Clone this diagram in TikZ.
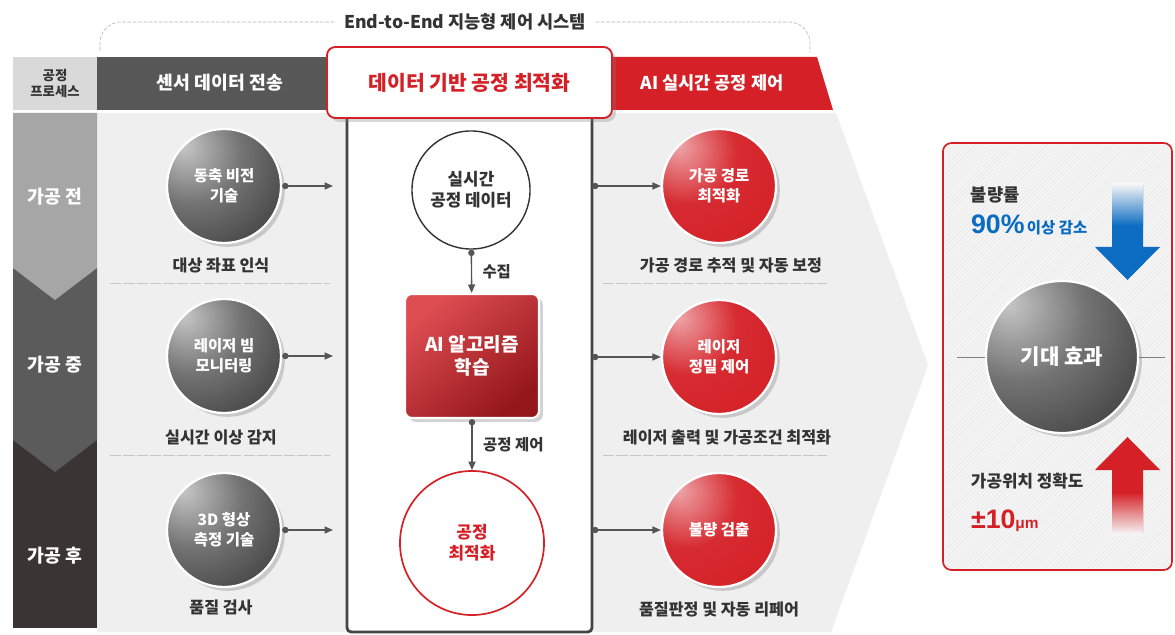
\documentclass[tikz,border=0pt]{standalone}
\usepackage{fontspec}
\setmainfont{Noto Sans CJK KR}
\newfontfamily\latin{Liberation Sans}
\usetikzlibrary{arrows.meta,shadows,patterns}

\definecolor{rojo}{HTML}{D42026}
\definecolor{azul}{HTML}{0B6CC2}
\definecolor{fondo}{HTML}{EFEFEF}
\definecolor{celda}{HTML}{D9D9D9}
\definecolor{banda}{HTML}{575757}
\definecolor{fase1}{HTML}{A6A6A6}
\definecolor{fase2}{HTML}{5B5B5B}
\definecolor{fase3}{HTML}{3A3434}
\definecolor{texto}{HTML}{333333}
\definecolor{linea}{HTML}{555555}

\newcommand{\sz}[2]{\fontsize{#1}{#2}\selectfont}

% Esferas con brillo arriba a la izquierda
\pgfdeclareradialshading{esferaD}{\pgfpoint{-18bp}{18bp}}{color(0bp)=(black!22); color(22bp)=(black!55); color(45bp)=(black!75); color(70bp)=(black!85); color(100bp)=(black!85)}
\pgfdeclareradialshading{esferaR}{\pgfpoint{-18bp}{18bp}}{color(0bp)=(rojo!40!white); color(22bp)=(rojo!95!white); color(45bp)=(rojo); color(70bp)=(rojo!75!black); color(100bp)=(rojo!75!black)}

\tikzset{
  ballD/.style={circle, minimum size=2.85cm, inner sep=0pt, shading=esferaD,
    draw=white, line width=1.6pt, text=white, align=center,
    font=\bfseries\sz{11}{14}, drop shadow={opacity=0.35}},
  ballR/.style={ballD, shading=esferaR},
  lbl/.style={text=texto, font=\bfseries\sz{11.5}{14}},
  phase/.style={text=white, font=\bfseries\sz{13}{15}},
  link/.style={draw=linea, line width=1pt, {Circle[length=4.5pt]}-{Triangle[length=6pt,width=5pt]}},
  sep/.style={draw=gray!45, dash pattern=on 8pt off 1.5pt, line width=0.6pt},
}

\begin{document}
\begin{tikzpicture}[x=0.025cm, y=-0.025cm]
    % Marco
    \useasboundingbox[fill=white] (0,0) rectangle (1175,635);

    % Fondo gris con flecha a la derecha
    \fill[fondo] (97,113) -- (836,113) -- (928,365) -- (831,632) -- (97,632) -- cycle;

    % Columna de fases
    \fill[fase3] (13,430) rectangle (97,628);
    \fill[fase2] (13,268) -- (97,268) -- (97,440) -- (55,472) -- (13,440) -- cycle;
    \fill[fase1] (13,113) -- (97,113) -- (97,268) -- (55,300) -- (13,268) -- cycle;
    \node[phase] (pre) at (55,197) {가공 전};
    \node[phase] (mid) at (55,365) {가공 중};
    \node[phase] (post) at (55,556) {가공 후};

    % Encabezados
    \node[fill=celda, minimum width=2.1cm, minimum height=1.325cm, align=center,
          text=texto, font=\bfseries\sz{9.5}{11.5}] (proc) at (55,83.5) {공정\\프로세스};
    \fill[banda] (97,57) rectangle (340,110);
    \node[text=white, font=\bfseries\sz{13}{15}] (hdsen) at (220,83) {센서 데이터 전송};
    \fill[rojo] (600,57) -- (817,57) -- (833,110) -- (600,110) -- cycle;
    \node[text=white, font=\bfseries\sz{12.5}{15}] (hdai) at (712,83) {AI 실시간 공정 제어};

    % Columna central
    \draw[draw=linea!80!black, line width=2pt, fill=white, rounded corners=3pt]
        (347,112) -- (347,632) -- (592,632) -- (592,112);
    \node[draw=rojo, line width=1.3pt, fill=white, rounded corners=6pt,
          minimum width=7.125cm, minimum height=1.775cm, text=rojo,
          font=\bfseries\sz{14.5}{17}, drop shadow={opacity=0.3}] (hdmid) at (469.5,82.5) {데이터 기반 공정 최적화};

    % Separadores
    \draw[sep] (110,283) -- (330,283);
    \draw[sep] (110,455) -- (330,455);
    \draw[sep] (603,283) -- (827,283);
    \draw[sep] (603,455) -- (827,455);

    % Sensores (izquierda)
    \node[ballD] (sen1) at (224,186) {동축 비전\\기술};
    \node[ballD] (sen2) at (224,356) {레이저 빔\\모니터링};
    \node[ballD] (sen3) at (224,530) {3D 형상\\측정 기술};
    \node[lbl] (lsen1) at (221,265) {대상 좌표 인식};
    \node[lbl] (lsen2) at (221,437) {실시간 이상 감지};
    \node[lbl] (lsen3) at (221,607) {품질 검사};
    \coordinate (e1) at (333,186);
    \coordinate (e2) at (333,356);
    \coordinate (e3) at (333,530);
    \draw[link] (sen1) -- (e1);
    \draw[link] (sen2) -- (e2);
    \draw[link] (sen3) -- (e3);

    % Flujo central
    \node[circle, draw=texto, line width=1pt, fill=white, minimum size=2.95cm,
          align=center, text=texto, font=\bfseries\sz{12}{15}] (data) at (471,190) {실시간\\공정 데이터};
    \node[rectangle, rounded corners=5pt, draw=white, line width=1.5pt,
          top color=rojo!80!white, bottom color=rojo!70!black, shading angle=40,
          minimum width=3.35cm, minimum height=3.1cm, align=center, text=white,
          font=\bfseries\sz{13.5}{16}, drop shadow={opacity=0.35}] (ai) at (472,356) {AI 알고리즘\\학습};
    \node[circle, draw=rojo, line width=1.2pt, fill=white, minimum size=3.6cm,
          align=center, text=rojo, font=\bfseries\sz{12}{15}] (opt) at (472,543) {공정\\최적화};
    \draw[link] (data) -- node[right=4pt, lbl, font=\bfseries\sz{11}{13}] {수집} (ai);
    \draw[link] (ai) -- node[right=4pt, lbl, font=\bfseries\sz{11}{13}] {공정 제어} (opt);

    % Control (derecha)
    \node[ballR] (ctl1) at (719,186) {가공 경로\\최적화};
    \node[ballR] (ctl2) at (719,357) {레이저\\정밀 제어};
    \node[ballR] (ctl3) at (719,530) {불량 검출};
    \node[lbl] (lctl1) at (731,265) {가공 경로 추적 및 자동 보정};
    \node[lbl] (lctl2) at (727,437) {레이저 출력 및 가공조건 최적화};
    \node[lbl] (lctl3) at (719,609) {품질판정 및 자동 리페어};
    \coordinate (s1) at (592,186);
    \coordinate (s2) at (592,357);
    \coordinate (s3) at (592,530);
    \draw[link] (s1) -- (ctl1);
    \draw[link] (s2) -- (ctl2);
    \draw[link] (s3) -- (ctl3);

    % Efectos esperados
    \fill[fill=fondo!60!white, rounded corners=6pt] (943,143) rectangle (1172,570);
    \fill[pattern=north east lines, pattern color=gray!18] (946,146) rectangle (1169,567);
    \draw[rojo, line width=1.2pt, rounded corners=6pt] (943,143) rectangle (1172,570);
    % flecha azul
    \fill[azul] (1112,185) -- (1143,185) -- (1143,247) -- (1160,247) -- (1127.5,280)
        -- (1095,247) -- (1112,247) -- cycle;
    \shade[top color=fondo!60!white, bottom color=azul] (1112,184) rectangle (1143,226);
    % flecha roja
    \fill[rojo] (1112,533) -- (1143,533) -- (1143,470) -- (1160,470) -- (1127.5,437)
        -- (1095,470) -- (1112,470) -- cycle;
    \shade[top color=rojo, bottom color=fondo!60!white] (1112,492) rectangle (1143,534);
    \coordinate (ll) at (957,357);
    \coordinate (lr) at (1165,357);
    \node[ballD, minimum size=3.8cm, font=\bfseries\sz{15}{17}] (effect) at (1062,357) {기대 효과};
    \draw[gray, line width=0.6pt] (ll) -- (effect);
    \draw[gray, line width=0.6pt] (effect) -- (lr);
    \node[lbl, anchor=west, font=\bfseries\sz{12.5}{14}] (defect) at (966,195) {불량률};
    \node[anchor=base west, text=azul, font=\bfseries, inner sep=2pt] (rate) at (968,234)
        {{\latin\sz{19}{22}90\%}\,\sz{11}{13}이상 감소};
    \node[lbl, anchor=west, font=\bfseries\sz{12}{14}] (acc) at (966,481) {가공위치 정확도};
    \node[anchor=base west, text=rojo, font=\bfseries\latin, inner sep=2pt] (tol) at (968,528)
        {\sz{19}{22}±10\sz{11}{13}μm};

    % Sistema End-to-End
    \node[text=texto, font=\bfseries\sz{12.5}{15}, inner sep=7pt] (title) at (465,22) {End-to-End 지능형 제어 시스템};
    \coordinate (bl) at (100,52);
    \coordinate (br) at (810,52);
    \draw[gray!60, dash pattern=on 2.5pt off 1.2pt, rounded corners=15pt] (title.west) -| (bl);
    \draw[gray!60, dash pattern=on 2.5pt off 1.2pt, rounded corners=15pt] (title.east) -| (br);
\end{tikzpicture}
\end{document}
